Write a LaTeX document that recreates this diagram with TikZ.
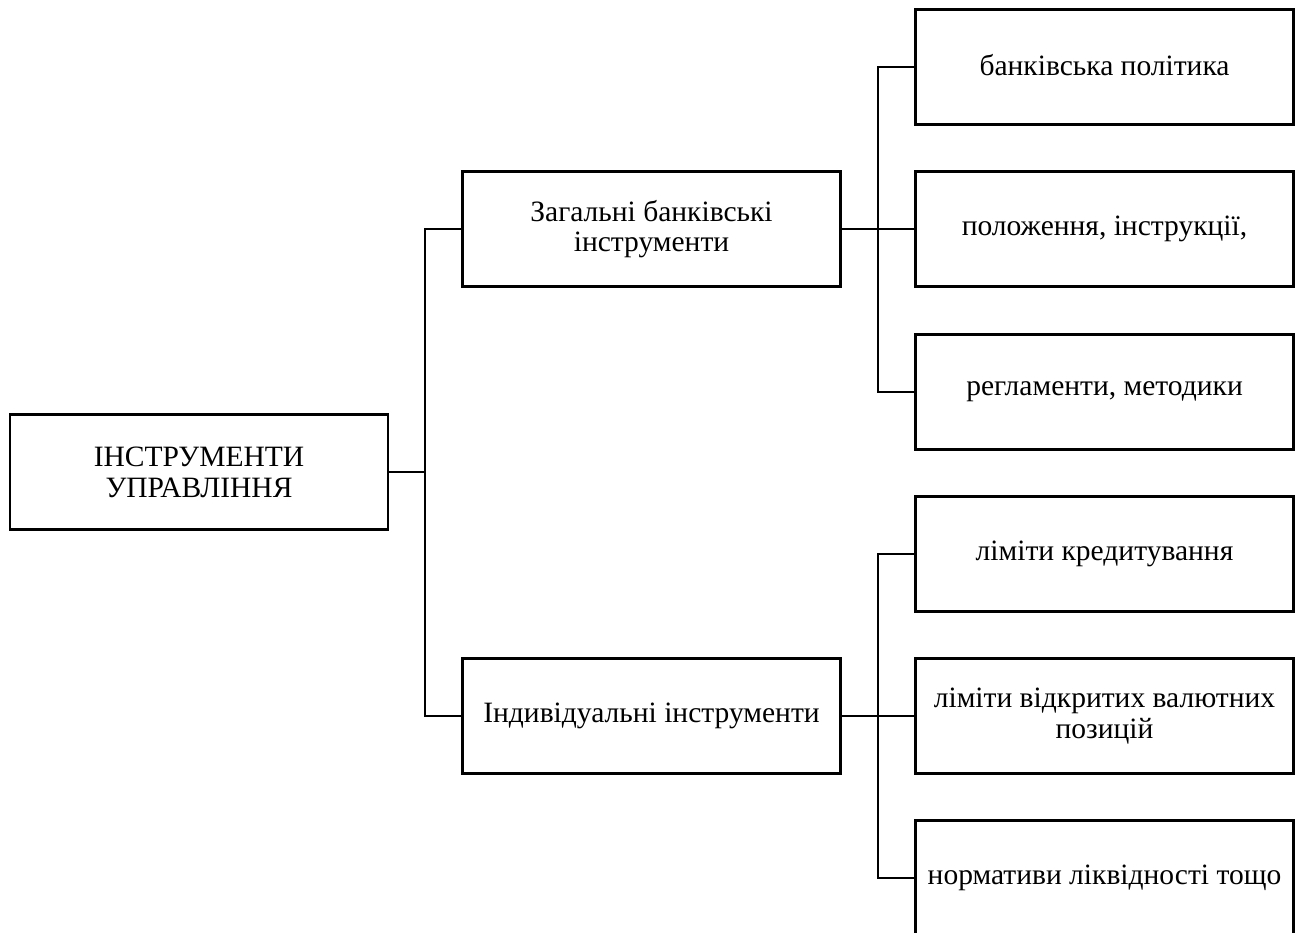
\documentclass[tikz,border=0pt]{standalone}
\usepackage{fontspec}
\setmainfont{Liberation Serif}
\usepackage{tikz}
\usetikzlibrary{positioning}

\tikzset{blok/.style={draw,line width=1.5pt,minimum width=7.56cm,minimum height=2.3cm,align=center,inner sep=2pt,font=\fontsize{16.8}{17.5}\selectfont}}

\begin{document}
\begin{tikzpicture}[line width=1.5pt]
\useasboundingbox (0,0) rectangle (25.9,-18.64);
\clip (0,0) rectangle (25.9,-18.64);
  \node[blok] at (3.98,-9.44) (instr) {ІНСТРУМЕНТИ\\УПРАВЛІННЯ};
  \node[blok] at (13.03,-4.58) (zag) {Загальні банківські\\інструменти};
  \node[blok] at (13.03,-14.32) (ind) {Індивідуальні інструменти};

  \node[blok] at (22.09,-1.34) (polit) {\raisebox{0.1cm}{банківська політика}};
  \node[blok] at (22.09,-4.58) (polozh) {положення, інструкції,};
  \node[blok] at (22.09,-7.84) (regl) {регламенти, методики};
  \node[blok] at (22.09,-11.08) (limk) {ліміти кредитування};
  \node[blok] at (22.09,-14.32) (limv) {ліміти відкритих валютних\\позицій};
  \node[blok] at (22.09,-17.56) (norm) {нормативи ліквідності тощо};

  \coordinate (s0) at (8.5,-9.44);
  \coordinate (s1) at (17.56,-4.58);
  \coordinate (s2) at (17.56,-14.32);

  \draw (instr.east) -- (s0);
  \draw (s0) |- (zag.west);
  \draw (s0) |- (ind.west);

  \draw (zag.east) -- (s1);
  \draw (s1) |- (polit.west);
  \draw (s1) -- (polozh.west);
  \draw (s1) |- (regl.west);

  \draw (ind.east) -- (s2);
  \draw (s2) |- (limk.west);
  \draw (s2) -- (limv.west);
  \draw (s2) |- (norm.west);
\end{tikzpicture}
\end{document}
